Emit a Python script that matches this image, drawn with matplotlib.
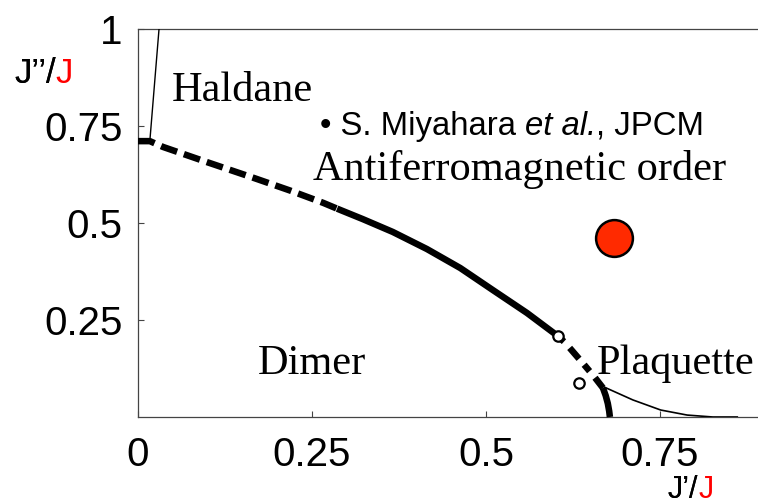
import matplotlib
matplotlib.use("Agg")
import matplotlib.pyplot as plt

# ---------------- data ----------------
xticks = [0, 0.25, 0.5, 0.75]
xtick_labels = ["0", "0.25", "0.5", "0.75"]
yticks = [0.25, 0.5, 0.75, 1.0]
ytick_labels = ["0.25", "0.5", "0.75", "1"]

# Dimer / AF boundary (thick), split by line style
dashed1_x = [0.000, 0.017, 0.036, 0.099, 0.165, 0.218, 0.266, 0.286]
dashed1_y = [0.711, 0.711, 0.696, 0.657, 0.617, 0.584, 0.552, 0.537]
solid1_x = [0.286, 0.323, 0.366, 0.415, 0.463, 0.510, 0.559, 0.603]
solid1_y = [0.537, 0.510, 0.477, 0.433, 0.384, 0.327, 0.268, 0.209]
dashed2_x = [0.603, 0.614, 0.639, 0.655, 0.668]
dashed2_y = [0.209, 0.191, 0.139, 0.105, 0.075]
solid2_x = [0.668, 0.672, 0.675, 0.677, 0.678]
solid2_y = [0.075, 0.055, 0.035, 0.015, 0.000]

# Haldane boundary (thin)
haldane_x = [0.017, 0.0302]
haldane_y = [0.711, 1.000]

# Plaquette / AF boundary (thin)
plaq_x = [0.670, 0.711, 0.751, 0.789, 0.826, 0.861]
plaq_y = [0.077, 0.044, 0.018, 0.005, 0.000, 0.000]

# open circles
open_x = [0.603, 0.634]
open_y = [0.209, 0.088]

# red point
red_x = [0.684]
red_y = [0.461]

W, H = 758, 504
fig = plt.figure(figsize=(W / 100, H / 100), dpi=100)
ax = fig.add_axes([138 / W, 1 - 417 / H, 620 / W, 388 / H])
ax.set_xlim(0, 620 / 696)
ax.set_ylim(0, 1)

spine_col = "#444444"
for s in ["left", "bottom", "top"]:
    ax.spines[s].set_color(spine_col)
    ax.spines[s].set_linewidth(0.9)
ax.spines["right"].set_visible(False)

ax.set_xticks(xticks)
ax.set_xticklabels(xtick_labels)
ax.set_yticks(yticks)
ax.set_yticklabels(ytick_labels)
ax.tick_params(direction="in", length=4, width=0.8, color=spine_col,
               labelsize=29, top=False, right=False)
ax.tick_params(axis="x", pad=14)
ax.tick_params(axis="y", pad=11)
for lab in ax.get_xticklabels() + ax.get_yticklabels():
    lab.set_fontfamily("Liberation Sans")

lw = 4.7
dash = (0, (2.6, 1.1))
ax.plot(dashed1_x, dashed1_y, color="black", lw=lw, linestyle=dash,
        dash_capstyle="butt", clip_on=False, zorder=3)
ax.plot(solid1_x, solid1_y, color="black", lw=lw, solid_capstyle="butt",
        solid_joinstyle="round", zorder=3)
ax.plot(dashed2_x, dashed2_y, color="black", lw=lw, linestyle=(0, (1.3, 1.3, 2.2, 1.2)),
        dash_capstyle="butt", zorder=3)
ax.plot(solid2_x, solid2_y, color="black", lw=lw, solid_capstyle="butt",
        zorder=3, clip_on=False)
ax.plot(haldane_x, haldane_y, color="black", lw=1.0, zorder=3)
ax.plot(plaq_x, plaq_y, color="black", lw=1.2, zorder=3)

ax.plot(open_x, open_y, linestyle="none", marker="o", markersize=7.5,
        markerfacecolor="white", markeredgecolor="black", markeredgewidth=1.6,
        zorder=4)
ax.plot(red_x, red_y, linestyle="none", marker="o", markersize=26.5,
        markerfacecolor="#ff2a00", markeredgecolor="black", markeredgewidth=1.8,
        zorder=4)

# region labels
serif = dict(fontfamily="Liberation Serif", fontsize=30.5, color="black",
             va="baseline", ha="left")
ax.text(0.049, 0.814, "Haldane", **serif)
ax.text(0.2514, 0.611, "Antiferromagnetic order", **serif)
ax.text(0.172, 0.111, "Dimer", **serif)
ax.text(0.659, 0.111, "Plaquette", **serif)

# reference note with italic part
sans = dict(fontfamily="Liberation Sans", fontsize=23.7, color="black")
t1 = ax.text(0.2615, 0.727, "\u2022 S. Miyahara ", va="baseline", ha="left", **sans)
t2 = ax.annotate("et al.", xy=(1, 0), xycoords=t1, va="bottom", ha="left",
                 fontstyle="italic", **sans)
t3 = ax.annotate(", JPCM", xy=(1, 0), xycoords=t2, va="bottom", ha="left", **sans)

# axis labels: black part followed by a red "J"
def two_tone(black, x_px, base_px, size):
    a = fig.text(x_px / W, 1 - base_px / H, black, fontfamily="Liberation Sans",
                 fontsize=size, color="black", ha="left", va="baseline")
    fig.add_artist(a)
    b = plt.annotate("J", xy=(1, 0), xycoords=a, va="bottom", ha="left",
                     fontfamily="Liberation Sans", fontsize=size, color="red",
                     annotation_clip=False)
    return a, b

two_tone("J\u2019\u2019/", 14, 83, 25)
two_tone("J\u2019/", 668, 498, 22)

fig.savefig("out.png", dpi=100)
